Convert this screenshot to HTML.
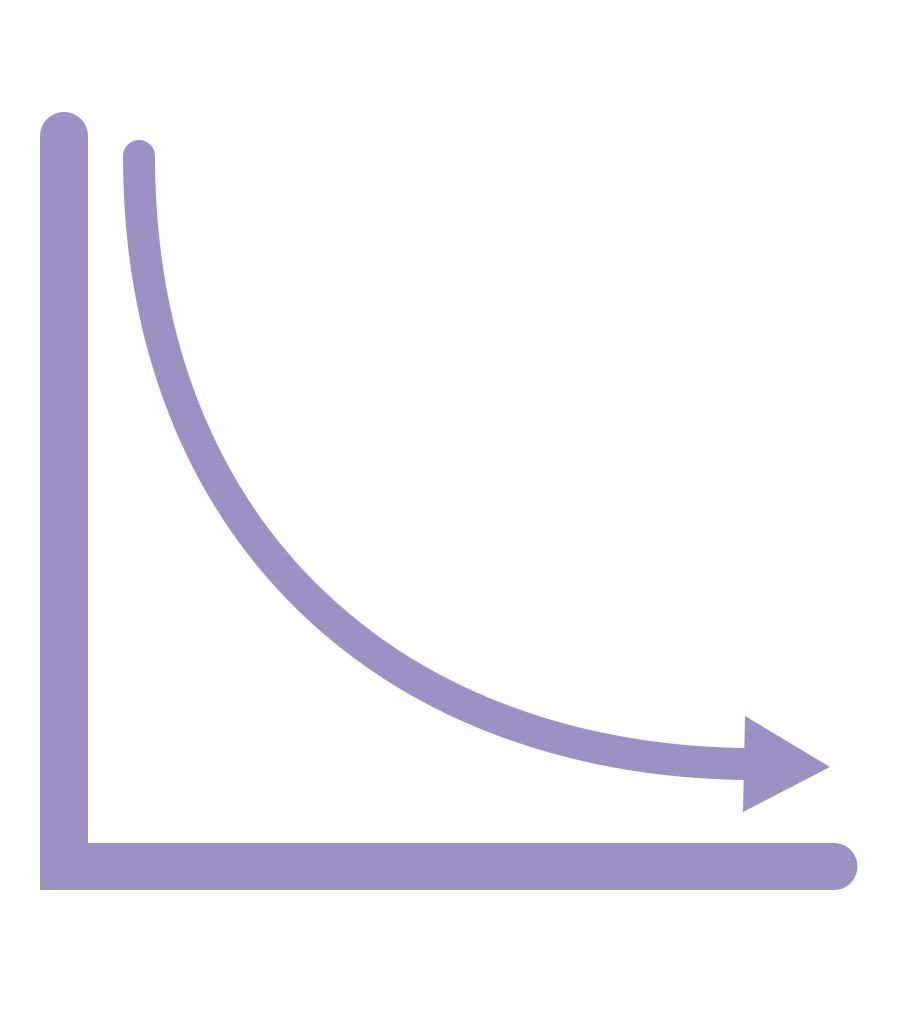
<!DOCTYPE html>
<html>
<head>
<meta charset="utf-8">
<style>
  html,body{margin:0;padding:0;background:#fff;}
  svg{display:block;}
</style>
</head>
<body>
<svg width="916" height="1021" viewBox="0 0 916 1021">
  <g fill="#9D91C3" stroke="none">
    <path d="M40,136 A24,24 0 0 1 88,136 L88,890 L40,890 Z"/>
    <path d="M40,843 L834,843 A23.5,23.5 0 0 1 834,890 L40,890 Z"/>
    <polygon points="745,716 830,767 743,812"/>
  </g>
  <path d="M139,156 C139,530 390,762 752,764" fill="none" stroke="#9D91C3" stroke-width="32" stroke-linecap="round"/>
</svg>
</body>
</html>
